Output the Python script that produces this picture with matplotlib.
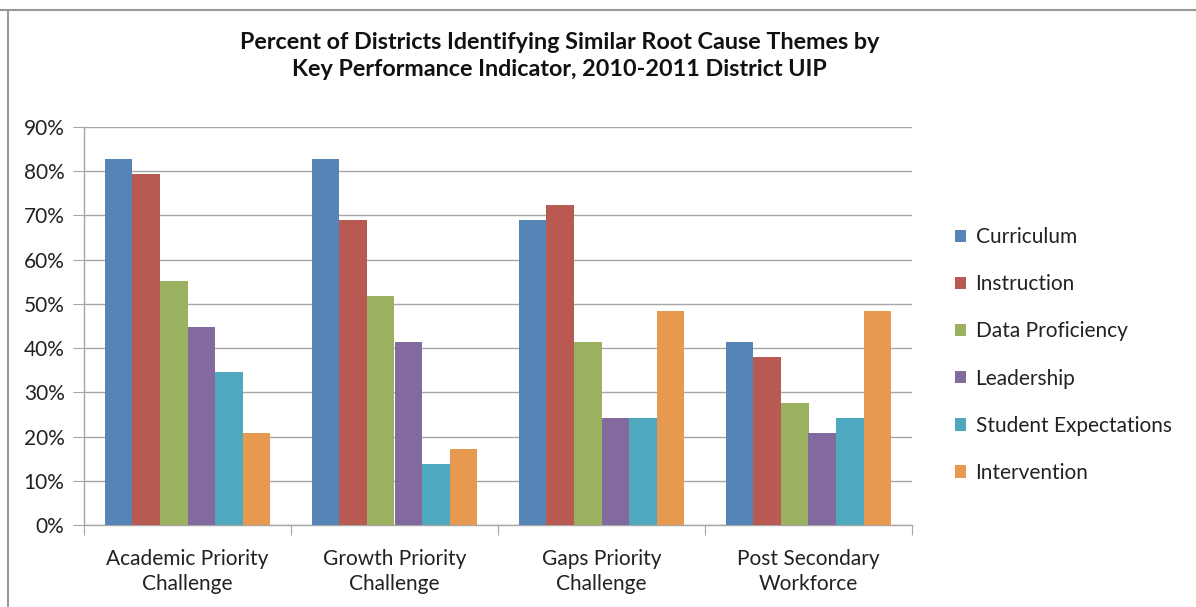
import matplotlib
matplotlib.use("Agg")
import matplotlib.pyplot as plt
from matplotlib.lines import Line2D
from matplotlib.ticker import MultipleLocator, PercentFormatter
import numpy as np

plt.rcParams['font.family'] = ['Lato', 'DejaVu Sans']

categories = ["Academic Priority\nChallenge", "Growth Priority\nChallenge",
              "Gaps Priority\nChallenge", "Post Secondary\nWorkforce"]
series = ["Curriculum", "Instruction", "Data Proficiency", "Leadership",
          "Student Expectations", "Intervention"]
curriculum = [82.8, 82.8, 69.0, 41.4]
instruction = [79.3, 69.0, 72.4, 37.9]
data_proficiency = [55.2, 51.7, 41.4, 27.6]
leadership = [44.8, 41.4, 24.1, 20.7]
student_expectations = [34.5, 13.8, 24.1, 24.1]
intervention = [20.7, 17.2, 48.3, 48.3]
values = [curriculum, instruction, data_proficiency, leadership,
          student_expectations, intervention]
colors = ["#5585B6", "#B95A52", "#9AB25F", "#826A9F", "#4EA8BE", "#E6994F"]

fig = plt.figure(figsize=(11.96, 6.07), dpi=100)
ax = fig.add_axes([84 / 1196, 1 - 525 / 607, (912 - 84) / 1196, (525 - 127) / 607])

x = np.arange(len(categories))
bar_w = 0.8 / len(series)
for i, (name, vals, c) in enumerate(zip(series, values, colors)):
    ax.bar(x - 0.4 + bar_w * (i + 0.5), vals, width=bar_w, color=c,
           label=name, zorder=3, linewidth=0)

ax.set_xlim(-0.5, len(categories) - 0.5)
ax.set_ylim(0, 90)
ax.yaxis.set_major_locator(MultipleLocator(10))
ax.yaxis.set_major_formatter(PercentFormatter(decimals=0))
ax.grid(axis='y', color='#a6a6a6', linewidth=1, zorder=0)
for s in ['top', 'right']:
    ax.spines[s].set_visible(False)
for s in ['left', 'bottom']:
    ax.spines[s].set_color('#a6a6a6')
    ax.spines[s].set_linewidth(1)

ax.set_xticks(np.arange(len(categories) + 1) - 0.5, minor=False)
ax.set_xticklabels([])
ax.set_xticks(x, minor=True)
ax.set_xticklabels(categories, minor=True, fontsize=15, linespacing=1.35,
                   color='#222222')
ax.tick_params(axis='x', which='major', length=7, color='#a6a6a6', direction='out')
ax.tick_params(axis='x', which='minor', length=0, pad=17)
ax.tick_params(axis='y', length=8, color='#a6a6a6', labelsize=15,
               labelcolor='#222222', pad=6)

fig.text(0.468, 1 - 56 / 607,
         "Percent of Districts Identifying Similar Root Cause Themes by\n"
         "Key Performance Indicator, 2010-2011 District UIP",
         ha='center', va='center', fontsize=16.8, fontweight='bold',
         linespacing=1.3, color='#111111')

fig.legend(loc='center left', bbox_to_anchor=(936 / 1196, 1 - 355 / 607),
           frameon=False, fontsize=15, handlelength=0.55, handleheight=0.55,
           handletextpad=0.45, labelspacing=1.3, labelcolor='#222222')

fig.add_artist(Line2D([0, 1], [1 - 10 / 607] * 2, color='#999999', linewidth=1.5))
fig.add_artist(Line2D([8 / 1196] * 2, [0, 1 - 10 / 607], color='#999999', linewidth=1.5))

fig.savefig("out.png", dpi=100)
